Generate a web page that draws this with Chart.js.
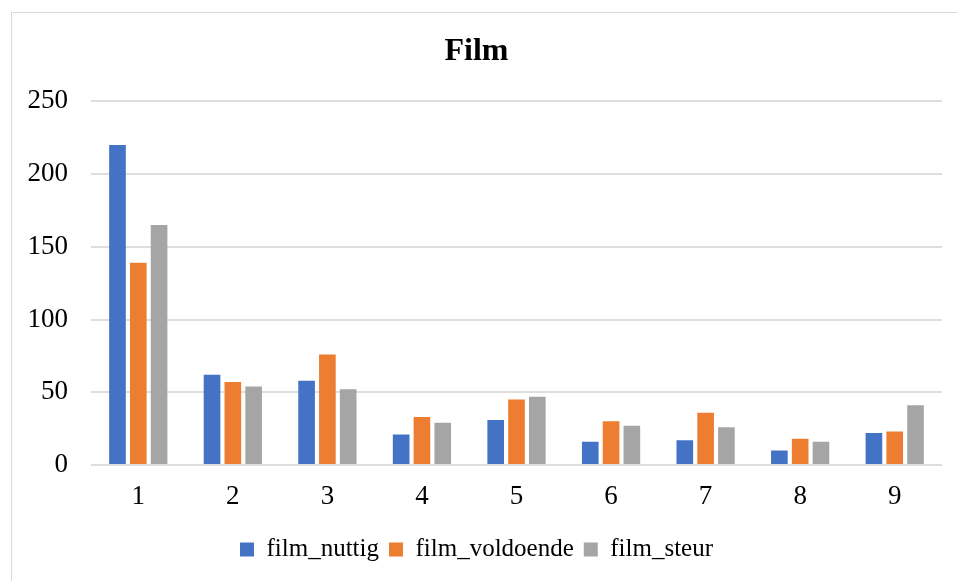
<!DOCTYPE html>
<html>
<head>
<meta charset="utf-8">
<script src="https://cdn.jsdelivr.net/npm/chart.js@4.4.0/dist/chart.umd.min.js"></script>
<style>
	html, body { margin: 0; padding: 0; background: #fff; overflow: hidden; }
	#frame { position: absolute; left: 11px; top: 12px; width: 960px; height: 600px; border: 1px solid #d9d9d9; }
	#chart { position: absolute; left: 0; top: 0; }
</style>
</head>
<body>
<div id="frame"></div>
<canvas id="chart" width="957" height="581"></canvas>
<script>
var categories = ['1', '2', '3', '4', '5', '6', '7', '8', '9'];
var filmNuttig = [220, 62, 58, 21, 31, 16, 17, 10, 22];
var filmVoldoende = [139, 57, 76, 33, 45, 30, 36, 18, 23];
var filmSteur = [165, 54, 52, 29, 47, 27, 26, 16, 41];
var yTicks = [0, 50, 100, 150, 200, 250];

var serif = '"Liberation Serif", "Times New Roman", serif';

var ctx = document.getElementById('chart').getContext('2d');
var chart = new Chart(ctx, {
	type: 'bar',
	data: {
		labels: categories,
		datasets: [
			{ label: 'film_nuttig', data: filmNuttig, backgroundColor: '#4472C4' },
			{ label: 'film_voldoende', data: filmVoldoende, backgroundColor: '#ED7D31' },
			{ label: 'film_steur', data: filmSteur, backgroundColor: '#A5A5A5' }
		]
	},
	options: {
		responsive: false,
		animation: false,
		datasets: {
			bar: { categoryPercentage: 0.66, barPercentage: 0.8 }
		},
		layout: { padding: { left: 11, right: 15, top: 0, bottom: 9 } },
		plugins: {
			title: {
				display: true,
				text: 'Film',
				color: '#000',
				font: { family: serif, size: 32, weight: 'bold' },
				padding: { top: 33, bottom: 30 }
			},
			legend: {
				position: 'bottom',
				labels: {
					color: '#000',
					font: { family: serif, size: 25 },
					boxWidth: 14,
					boxHeight: 14,
					padding: 10
				}
			},
			tooltip: { enabled: false }
		},
		scales: {
			x: {
				grid: { display: false },
				border: { display: false },
				ticks: { color: '#000', font: { family: serif, size: 27 }, padding: 8 },
				afterFit: function (scale) { scale.height = 62; }
			},
			y: {
				min: 0,
				max: yTicks[yTicks.length - 1],
				afterBuildTicks: function (scale) {
					scale.ticks = yTicks.map(function (v) { return { value: v }; });
				},
				grid: { color: '#dedede', lineWidth: 2, drawTicks: false },
				border: { display: false },
				ticks: { color: '#000', font: { family: serif, size: 27 }, padding: 23 },
				afterFit: function (scale) { scale.width = 80; }
			}
		}
	}
});
</script>
</body>
</html>
